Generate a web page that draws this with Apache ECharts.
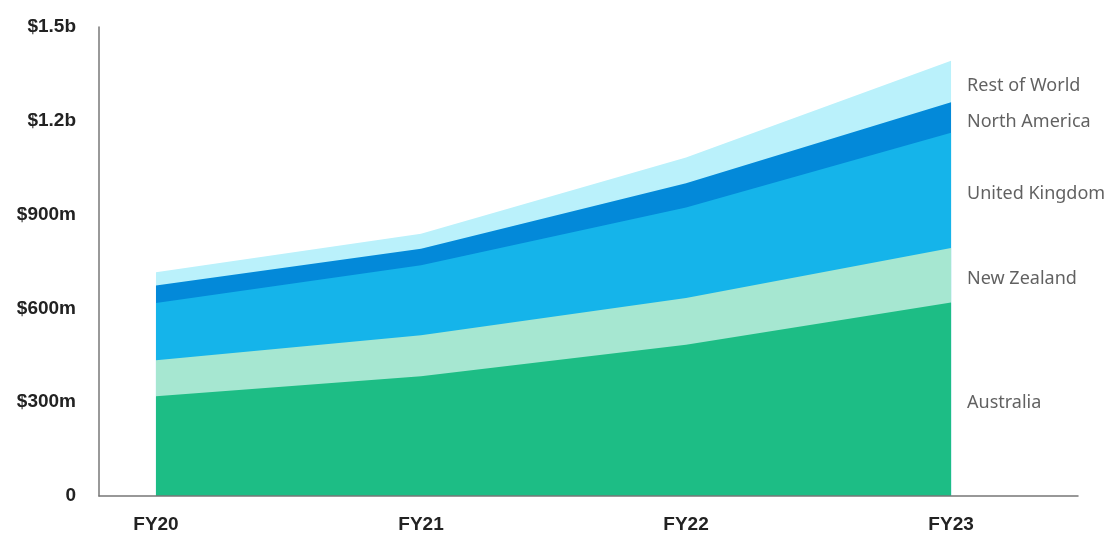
<!DOCTYPE html>
<html>
<head>
<meta charset="utf-8">
<script src="https://cdn.jsdelivr.net/npm/echarts@6/dist/echarts.min.js"></script>
<style>
html,body{margin:0;padding:0;background:#fff;}
#chart{width:1109px;height:534px;}
</style>
</head>
<body>
<div id="chart"></div>
<script>
const categories = ['FY20', 'FY21', 'FY22', 'FY23'];
const seriesNames = ['Australia', 'New Zealand', 'United Kingdom', 'North America', 'Rest of World'];
const australia = [319, 383, 484, 619];
const newZealand = [115, 131, 149, 174];
const unitedKingdom = [183, 224, 290, 369];
const northAmerica = [56, 53, 77, 97];
const restOfWorld = [43, 48, 83, 133];
const yTicks = [0, 300, 600, 900, 1200, 1500];
const yTickLabels = ['0', '$300m', '$600m', '$900m', '$1.2b', '$1.5b'];

const values = [australia, newZealand, unitedKingdom, northAmerica, restOfWorld];
const colors = ['#1DBD85', '#A6E7D1', '#15B4EA', '#0389D9', '#BAF1FB'];

// cumulative totals (stacked), bottom series first
const cumulative = [];
values.forEach((vals, i) => {
  cumulative.push(vals.map((v, j) => v + (i > 0 ? cumulative[i - 1][j] : 0)));
});

// draw from top band down so each lower band covers the fill beneath the upper ones
const areaSeries = values.map((vals, i) => ({
  name: seriesNames[i],
  type: 'line',
  data: cumulative[i].map((v, j) => [j, v]),
  showSymbol: false,
  symbol: 'none',
  lineStyle: { width: 0 },
  areaStyle: { color: colors[i], opacity: 1, origin: 'start' },
  itemStyle: { color: colors[i] },
  z: 2 + (values.length - i)
})).reverse();

// band midpoints at the last category for right-hand labels
const last = categories.length - 1;
const labelData = values.map((vals, i) => ({
  value: [last, cumulative[i][last] - vals[last] / 2],
  name: seriesNames[i]
}));

const labelSeries = {
  type: 'scatter',
  data: labelData,
  symbolSize: 0,
  silent: true,
  z: 20,
  label: {
    show: true,
    position: 'right',
    distance: 16,
    offset: [0, 4],
    formatter: p => p.name,
    fontFamily: 'Noto Sans',
    fontSize: 18,
    color: '#3a3a3a'
  }
};

const chart = echarts.init(document.getElementById('chart'));
chart.setOption({
  animation: false,
  backgroundColor: '#fff',
  grid: { left: 99, right: 31, top: 27, bottom: 37.5, containLabel: false },
  xAxis: {
    type: 'value',
    min: -0.215,
    max: 3.479,
    splitLine: { show: false },
    axisTick: { show: false },
    axisLine: { show: true, onZero: false, lineStyle: { color: '#777', width: 1.5 } },
    axisLabel: {
      customValues: [0, 1, 2, 3],
      formatter: v => categories[Math.round(v)] || '',
      fontFamily: 'Liberation Sans',
      fontWeight: 'bold',
      fontSize: 19,
      color: '#222',
      margin: 19
    },
    z: 30
  },
  yAxis: {
    type: 'value',
    min: 0,
    max: 1500,
    interval: 300,
    splitLine: { show: false },
    axisTick: { show: false },
    axisLine: { show: true, onZero: false, lineStyle: { color: '#777', width: 1.5 } },
    axisLabel: {
      formatter: v => yTickLabels[yTicks.indexOf(v)],
      fontFamily: 'Liberation Sans',
      fontWeight: 'bold',
      fontSize: 19,
      color: '#222',
      margin: 23
    },
    z: 30
  },
  series: [...areaSeries, labelSeries]
});
</script>
</body>
</html>
